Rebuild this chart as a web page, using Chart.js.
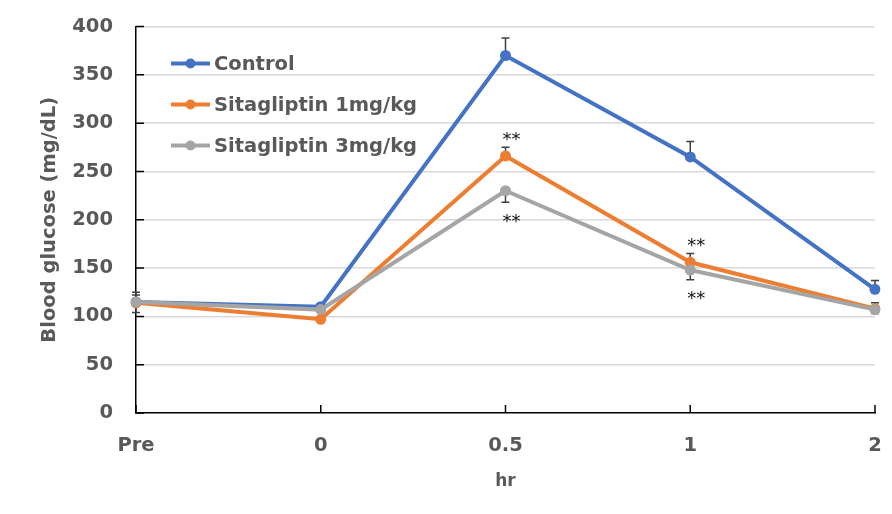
<!DOCTYPE html>
<html>
<head>
<meta charset="utf-8">
<script src="https://cdn.jsdelivr.net/npm/chart.js@4.4.0/dist/chart.umd.min.js"></script>
<style>
  html, body { margin: 0; padding: 0; background: #fff; }
  #wrap { width: 892px; height: 514px; position: relative; }
</style>
</head>
<body>
<div id="wrap"><canvas id="myChart"></canvas></div>
<script>
var timeLabels = ["Pre", "0", "0.5", "1", "2"];
var yTicks = [0, 50, 100, 150, 200, 250, 300, 350, 400];

var controlValues = [115, 110, 370, 265, 128];
var sita1Values = [114, 97, 266, 156, 108];
var sita3Values = [115, 107, 230, 148, 107];

// error bars (SEM), drawn one-sided like the original
var controlErr = [10, 3, 18, 16, 9];
var sita1Err = [8, 3, 9, 9, 6];
var sita3Err = [11, 3, 12, 10, 4];
var errSide = ["up", "up", "down"];

// significance marks: series index, time index, above/below
var sigSeries = [1, 2, 1, 2];
var sigIndex = [2, 2, 3, 3];
var sigSide = ["up", "down", "up", "down"];

var seriesNames = ["Control", "Sitagliptin 1mg/kg", "Sitagliptin 3mg/kg"];
var seriesColors = ["#4472C4", "#ED7D31", "#A5A5A5"];
var allErr = [controlErr, sita1Err, sita3Err];

var textGrey = "#595959";
var fontFam = "'DejaVu Sans', sans-serif";

var errorBars = {
    id: "errorBars",
    beforeDatasetsDraw: function (chart) {
        var ctx = chart.ctx;
        var y = chart.scales.y;
        ctx.save();
        ctx.strokeStyle = "#404040";
        ctx.lineWidth = 1.5;
        chart.data.datasets.forEach(function (ds, i) {
            var meta = chart.getDatasetMeta(i);
            meta.data.forEach(function (pt, j) {
                var v = ds.data[j];
                var e = allErr[i][j];
                var end = errSide[i] == "up" ? v + e : v - e;
                var py = y.getPixelForValue(v);
                var ey = y.getPixelForValue(end);
                ctx.beginPath();
                ctx.moveTo(pt.x, py);
                ctx.lineTo(pt.x, ey);
                ctx.moveTo(pt.x - 4, ey);
                ctx.lineTo(pt.x + 4, ey);
                ctx.stroke();
            });
        });
        ctx.restore();
    }
};

var extras = {
    id: "extras",
    afterDraw: function (chart) {
        var ctx = chart.ctx;
        var area = chart.chartArea;
        var x = chart.scales.x;
        var y = chart.scales.y;
        ctx.save();

        // inward tick marks
        ctx.strokeStyle = "#000";
        ctx.lineWidth = 1.5;
        ctx.beginPath();
        yTicks.forEach(function (t) {
            var py = y.getPixelForValue(t);
            ctx.moveTo(area.left, py);
            ctx.lineTo(area.left + 8, py);
        });
        timeLabels.forEach(function (l, i) {
            var px = x.getPixelForValue(i);
            ctx.moveTo(px, area.bottom);
            ctx.lineTo(px, area.bottom - 8);
        });
        ctx.stroke();

        // significance stars
        ctx.fillStyle = "#111";
        ctx.font = "18px " + fontFam;
        ctx.textAlign = "center";
        ctx.textBaseline = "middle";
        sigSeries.forEach(function (s, k) {
            var j = sigIndex[k];
            var v = chart.data.datasets[s].data[j];
            var e = allErr[s][j];
            var px = x.getPixelForValue(j) + 6;
            var py;
            if (sigSide[k] == "up") {
                py = y.getPixelForValue(v + e) - 7;
            } else {
                py = y.getPixelForValue(v - e) + 20;
            }
            ctx.fillText("**", px, py);
        });

        // legend inside the plot
        ctx.font = "bold 19.5px " + fontFam;
        ctx.textAlign = "left";
        ctx.textBaseline = "middle";
        seriesNames.forEach(function (name, i) {
            var ly = area.top + 37 + i * 41;
            var lx = area.left + 35;
            ctx.strokeStyle = seriesColors[i];
            ctx.lineWidth = 4;
            ctx.beginPath();
            ctx.moveTo(lx, ly);
            ctx.lineTo(lx + 39, ly);
            ctx.stroke();
            ctx.fillStyle = seriesColors[i];
            ctx.beginPath();
            ctx.arc(lx + 19.5, ly, 5, 0, Math.PI * 2);
            ctx.fill();
            ctx.fillStyle = textGrey;
            ctx.fillText(name, lx + 43, ly + 1);
        });
        ctx.restore();
    }
};

function makeSet(i, values, order) {
    return {
        label: seriesNames[i],
        data: values,
        borderColor: seriesColors[i],
        backgroundColor: seriesColors[i],
        borderWidth: 4,
        pointRadius: 5.5,
        pointBorderWidth: 0,
        tension: 0,
        order: order
    };
}

var ctx = document.getElementById("myChart").getContext("2d");
var config = {
    type: "line",
    data: {
        labels: timeLabels,
        datasets: [
            makeSet(0, controlValues, 2),
            makeSet(1, sita1Values, 1),
            makeSet(2, sita3Values, 0)
        ]
    },
    options: {
        responsive: true,
        maintainAspectRatio: false,
        animation: false,
        layout: { padding: { top: 26.5, right: 17, left: 0, bottom: 0 } },
        plugins: {
            legend: { display: false },
            tooltip: { enabled: false }
        },
        scales: {
            x: {
                offset: false,
                afterFit: function (s) {
                    s.height = 101;
                    s.paddingLeft = 0;
                    s.paddingRight = 0;
                },
                grid: { color: "transparent", drawTicks: false },
                border: { display: true, color: "#000", width: 1.5 },
                ticks: {
                    padding: 21,
                    color: textGrey,
                    font: { family: fontFam, size: 19.5, weight: "bold" },
                    maxRotation: 0
                },
                title: {
                    display: true,
                    text: "hr",
                    color: textGrey,
                    font: { family: fontFam, size: 17, weight: "bold" },
                    padding: { top: 0, bottom: 22 }
                }
            },
            y: {
                min: 0,
                max: 400,
                afterFit: function (s) {
                    s.width = 136;
                    s.paddingTop = 0;
                    s.paddingBottom = 0;
                },
                afterBuildTicks: function (s) {
                    s.ticks = yTicks.map(function (v) { return { value: v }; });
                },
                grid: {
                    drawTicks: false,
                    lineWidth: 1.5,
                    color: function (c) { return c.tick && c.tick.value === 0 ? "transparent" : "#d9d9d9"; }
                },
                border: { display: true, color: "#000", width: 1.5 },
                ticks: {
                    padding: 23,
                    color: textGrey,
                    font: { family: fontFam, size: 19.5, weight: "bold" }
                },
                title: {
                    display: true,
                    text: "Blood glucose (mg/dL)",
                    color: textGrey,
                    font: { family: fontFam, size: 19.5, weight: "bold" },
                    padding: { top: 38, bottom: 0 }
                }
            }
        }
    },
    plugins: [errorBars, extras]
};

var myChart = new Chart(ctx, config);
</script>
</body>
</html>
